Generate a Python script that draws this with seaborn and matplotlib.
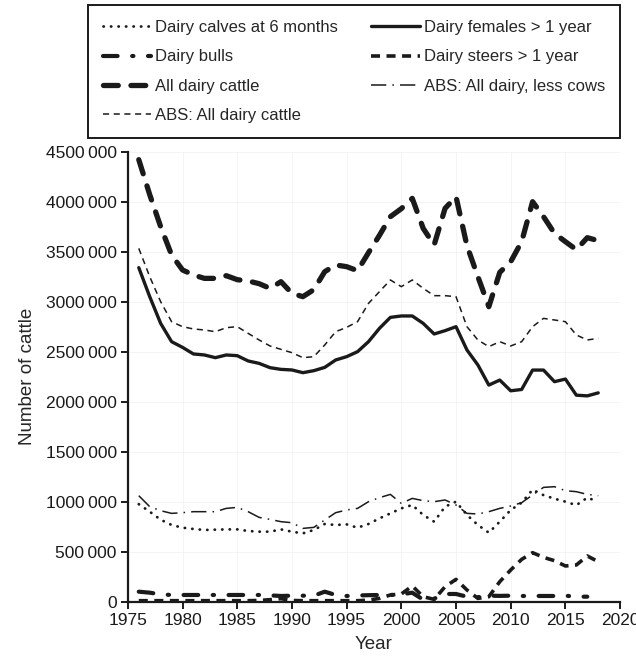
import numpy as np
import pandas as pd
import matplotlib
matplotlib.use("Agg")
import matplotlib.pyplot as plt
import seaborn as sns
from matplotlib.ticker import FuncFormatter

years = list(range(1976, 2019))

calves = [975, 900, 820, 767, 740, 727, 717, 720, 723, 723, 707, 700, 700, 723, 700,
          683, 717, 777, 767, 773, 740, 777, 833, 883, 933, 967, 867, 800, 950, 1000,
          867, 767, 690, 800, 917, 990, 1120, 1065, 1030, 1000, 965, 1040, 1000]
females = [3340, 3050, 2783, 2600, 2543, 2477, 2467, 2440, 2467, 2460, 2407, 2383, 2340,
           2323, 2317, 2290, 2310, 2343, 2417, 2450, 2500, 2600, 2733, 2843, 2857, 2857,
           2783, 2677, 2710, 2750, 2517, 2367, 2166, 2216, 2109, 2122, 2316, 2316, 2200,
           2226, 2065, 2058, 2088]
bulls = [100, 90, 73, 67, 67, 67, 67, 67, 67, 67, 67, 67, 63, 57, 60, 60, 60, 100, 67,
         57, 62, 65, 67, 67, 73, 90, 20, 30, 77, 77, 50, 45, 60, 58, 60, 57, 57, 57, 57,
         60, 50, 50]
steers = [10, 10, 10, 10, 10, 10, 10, 10, 10, 10, 10, 12, 20, 30, 12, 10, 10, 10, 10,
          10, 10, 15, 33, 67, 77, 157, 50, 23, 150, 223, 117, 33, 50, 200, 317, 423, 490,
          443, 410, 357, 367, 457, 400]
all_dairy = [4420, 4070, 3750, 3467, 3317, 3267, 3233, 3233, 3260, 3220, 3207, 3180,
             3133, 3200, 3083, 3050, 3120, 3300, 3367, 3350, 3310, 3490, 3663, 3850,
             3930, 4033, 3733, 3567, 3933, 4050, 3560, 3250, 2950, 3293, 3400, 3600,
             4000, 3850, 3683, 3600, 3520, 3640, 3610]
abs_less_cows = [1060, 950, 910, 883, 890, 900, 900, 900, 933, 943, 900, 843, 823, 800,
                 790, 733, 743, 817, 890, 917, 933, 1000, 1040, 1073, 983, 1033, 1010,
                 1000, 1017, 967, 883, 877, 900, 933, 957, 990, 1067, 1143, 1150, 1110,
                 1100, 1073, 1060]
abs_all = [3533, 3250, 3000, 2800, 2750, 2727, 2717, 2700, 2740, 2750, 2683, 2617, 2557,
           2523, 2490, 2440, 2450, 2567, 2700, 2743, 2800, 2983, 3100, 3217, 3150, 3217,
           3133, 3060, 3060, 3050, 2750, 2617, 2550, 2600, 2557, 2600, 2750, 2833, 2817,
           2800, 2667, 2617, 2633]

# legend order (matplotlib fills the 2 columns top-down)
series = [
    ("Dairy calves at 6 months", calves, years),
    ("Dairy bulls", bulls, years[:-1]),
    ("All dairy cattle", all_dairy, years),
    ("ABS: All dairy cattle", abs_all, years),
    ("Dairy females > 1 year", females, years),
    ("Dairy steers > 1 year", steers, years),
    ("ABS: All dairy, less cows", abs_less_cows, years),
]

styles = {
    "Dairy calves at 6 months": dict(lw=2.0, ls=(0, (0.1, 2.6)), dash_capstyle="round"),
    "Dairy bulls": dict(lw=3.0, ls=(0, (3.5, 3.5, 0.3, 3.5)), dash_capstyle="round"),
    "All dairy cattle": dict(lw=3.8, ls=(0, (2.8, 2.4)), dash_capstyle="round"),
    "ABS: All dairy cattle": dict(lw=1.1, ls=(0, (4, 3))),
    "Dairy females > 1 year": dict(lw=2.4, ls="-"),
    "Dairy steers > 1 year": dict(lw=2.6, ls=(0, (2.5, 1.8))),
    "ABS: All dairy, less cows": dict(lw=1.1, ls=(0, (10, 4, 1, 4))),
}

sns.set_style("white")
plt.rcParams['font.family'] = ['Liberation Sans', 'DejaVu Sans']

fig = plt.figure(figsize=(6.36, 6.56), dpi=100)
ax = fig.add_axes([0.201, 0.0828, 0.774, 0.686])

for name, vals, yrs in series:
    df = pd.DataFrame({"Year": yrs, "n": np.array(vals) * 1000})
    st = styles[name]
    sns.lineplot(data=df, x="Year", y="n", ax=ax, color="#1a1a1a", label=name,
                 linewidth=st["lw"], linestyle=st["ls"],
                 **{k: v for k, v in st.items() if k not in ("lw", "ls")})

ax.set_xlim(1975, 2020)
ax.set_ylim(0, 4500000)
ax.set_xticks(range(1975, 2021, 5))
ax.set_yticks(range(0, 4500001, 500000))
ax.yaxis.set_major_formatter(FuncFormatter(
    lambda v, p: "0" if v == 0 else f"{int(v) // 1000}\u2009{int(v) % 1000:03d}"))
ax.grid(True, color="#f2f2f2", lw=0.6)
for s in ["top", "right"]:
    ax.spines[s].set_visible(False)
for s in ["left", "bottom"]:
    ax.spines[s].set_color("#1a1a1a")
    ax.spines[s].set_linewidth(1.6)
ax.tick_params(axis="both", direction="out", length=5, width=1.4, labelsize=12.5,
               colors="#1a1a1a", pad=3, left=True, bottom=True)
ax.set_xlabel("Year", fontsize=13.5, labelpad=6)
ax.set_ylabel("Number of cattle", fontsize=13.5, labelpad=7)

leg = ax.legend(loc="upper left", bbox_to_anchor=(0.138, 0.799, 0.837, 0.193),
                bbox_transform=fig.transFigure,
                ncol=2, mode="expand", fontsize=12, frameon=True, fancybox=False,
                handlelength=2.9, handletextpad=0.25, labelspacing=0.85, borderpad=0.9,
                columnspacing=1.0, borderaxespad=0.0)
leg.get_frame().set_edgecolor("#1a1a1a")
leg.get_frame().set_linewidth(1.4)
leg.get_frame().set_alpha(1)

fig.savefig("out.png", dpi=100)
